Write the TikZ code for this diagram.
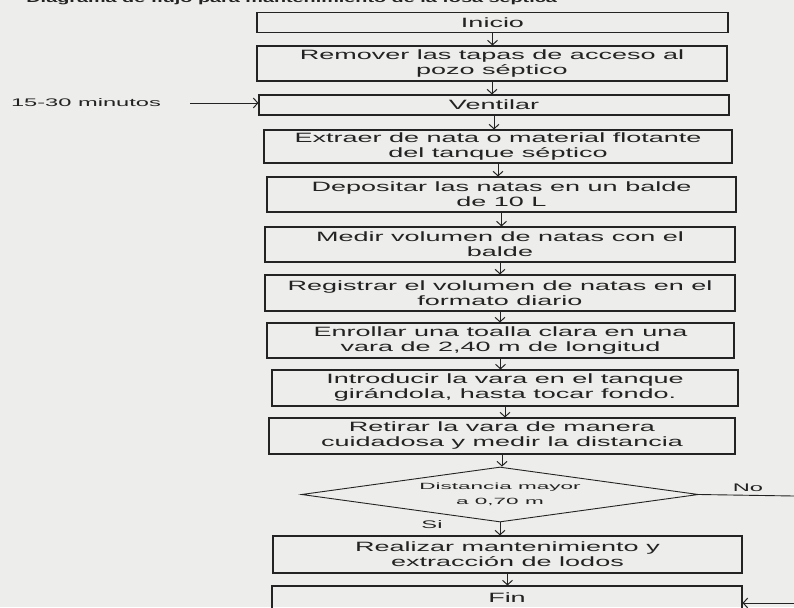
\documentclass[tikz,border=0pt]{standalone}
\usepackage{fontspec}
\setmainfont{Liberation Sans}
\newfontfamily\boxfont[FakeStretch=2.0]{Liberation Sans}
\newfontfamily\lblfont[FakeStretch=2.15]{Liberation Sans}
\newfontfamily\diafont[FakeStretch=2.5]{Liberation Sans}
\newfontfamily\titlefont[FakeStretch=1.8]{Liberation Sans Bold}
\usetikzlibrary{arrows.meta,shapes.geometric,calc}
\definecolor{paper}{RGB}{237,237,235}
\definecolor{ink}{RGB}{35,35,35}
\begin{document}
\begin{tikzpicture}[x=1pt,y=-1pt,
  box/.style={draw=ink, line width=1.1pt, inner sep=0pt, align=center, text=ink,
    font=\boxfont\fontsize{13.5}{15}\selectfont},
  decision/.style={draw=ink, line width=0.9pt, shape=diamond, aspect=7.2, inner sep=0pt,
    align=center, text=ink, font=\diafont\fontsize{9}{15}\selectfont},
  lbl/.style={text=ink, inner sep=0pt, font=\lblfont\fontsize{11}{13}\selectfont},
  arr/.style={draw=ink, line width=1pt, -{Straight Barb[length=4.5pt,width=10pt,line width=1pt]}},
  conn/.style={draw=ink, line width=0.9pt}
]
\fill[paper] (0,0) rectangle (794,607);
\useasboundingbox (0,0) rectangle (794,607);

\node[text=ink, inner sep=0pt, anchor=base east, font=\titlefont\fontsize{11}{13}\selectfont]
  (title) at (557,3) {Diagrama de flujo para mantenimiento de la fosa séptica};

\node[box, minimum width=471, minimum height=20] (ini) at (492.5,22.5) {Inicio};
\node[box, minimum width=470, minimum height=35] (rem) at (492,63.5) {Remover las tapas de acceso al\\pozo séptico};
\node[box, minimum width=470, minimum height=20] (ven) at (494,105) {Ventilar};
\node[box, minimum width=468, minimum height=33] (ext) at (498,146.5) {Extraer de nata o material flotante\\del tanque séptico};
\node[box, minimum width=469, minimum height=35] (dep) at (501.5,194.5) {Depositar las natas en un balde\\de 10 L};
\node[box, minimum width=470, minimum height=35] (med) at (500,244.5) {Medir volumen de natas con el\\balde};
\node[box, minimum width=470, minimum height=36] (reg) at (500,293) {Registrar el volumen de natas en el\\formato diario};
\node[box, minimum width=467, minimum height=35] (enr) at (500.5,340.5) {Enrollar una toalla clara en una\\vara de 2,40 m de longitud};
\node[box, minimum width=466, minimum height=36] (intr) at (505,388) {Introducir la vara en el tanque\\girándola, hasta tocar fondo.};
\node[box, minimum width=466, minimum height=36] (ret) at (502,436) {Retirar la vara de manera\\cuidadosa y medir la distancia};
\node[decision, minimum width=397, minimum height=55] (dia) at (500,494.5) {Distancia mayor\\a 0,70 m};
\node[box, minimum width=469, minimum height=37] (rea) at (507.5,554.5) {Realizar mantenimiento y\\extracción de lodos};
\node[box, minimum width=470, minimum height=24] (fin) at (507,598) {Fin};

\draw[arr] (ini.south) -- (ini.south |- rem.north);
\draw[arr] (rem.south) -- (rem.south |- ven.north);
\draw[arr] (ven.south) -- (ven.south |- ext.north);
\draw[arr] (ext.south) -- (ext.south |- dep.north);
\draw[arr] (dep.south) -- (dep.south |- med.north);
\draw[arr] (med.south) -- (med.south |- reg.north);
\draw[arr] (reg.south) -- (reg.south |- enr.north);
\draw[arr] (enr.south) -- (enr.south |- intr.north);
\draw[arr] (intr.south) -- (intr.south |- ret.north);
\draw[arr] (ret.south) -- (ret.south |- dia.north);
\draw[arr] (dia.south) -- (dia.south |- rea.north);
\draw[arr] (rea.south) -- (rea.south |- fin.north);

\node[lbl] (min) at (86,103) {15-30 minutos};
\coordinate (vin) at (190,103);
\draw[arr, line width=0.7pt] (vin) -- (vin -| ven.west);

\coordinate (noend) at (794,496);
\draw[conn] (dia.east) -- (noend);
\node[lbl] (no) at (748,488) {No};
\node[lbl] (si) at (432,525) {Si};

\coordinate (finin) at (794,603);
\draw[arr, line width=0.7pt] (finin) -- (finin -| fin.east);
\end{tikzpicture}
\end{document}
